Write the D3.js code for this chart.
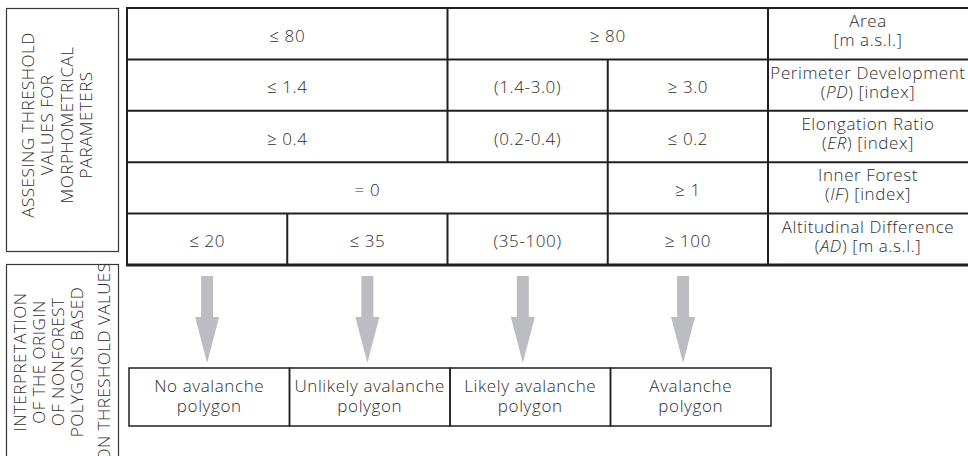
<!DOCTYPE html>
<html>
<head>
<meta charset="utf-8">
<script src="https://cdn.jsdelivr.net/npm/d3@7/dist/d3.min.js"></script>
<style>
  html, body { margin: 0; padding: 0; background: #fff; }
  svg { display: block; }
  text { font-family: "Open Sans", "DejaVu Sans", sans-serif; font-weight: 300; fill: #2f2c2d; letter-spacing: 0.6px; }
</style>
</head>
<body>
<svg id="chart" width="968" height="456"></svg>
<script>
// ---------- DATA ----------
const parameterNames = ["Area", "Perimeter Development", "Elongation Ratio", "Inner Forest", "Altitudinal Difference"];
const parameterAbbr  = [null, "PD", "ER", "IF", "AD"];
const parameterUnits = ["[m a.s.l.]", "[index]", "[index]", "[index]", "[m a.s.l.]"];

// threshold values per parameter row and how many of the 4 outcome columns each spans
const areaValues = ["≤ 80", "≥ 80"];
const areaSpans  = [2, 2];
const pdValues   = ["≤ 1.4", "(1.4-3.0)", "≥ 3.0"];
const pdSpans    = [2, 1, 1];
const erValues   = ["≥ 0.4", "(0.2-0.4)", "≤ 0.2"];
const erSpans    = [2, 1, 1];
const ifValues   = ["= 0", "≥ 1"];
const ifSpans    = [3, 1];
const adValues   = ["≤ 20", "≤ 35", "(35-100)", "≥ 100"];
const adSpans    = [1, 1, 1, 1];

const outcomeLine1 = ["No avalanche", "Unlikely avalanche", "Likely avalanche", "Avalanche"];
const outcomeLine2 = ["polygon", "polygon", "polygon", "polygon"];
// arrow position in outcome-column units
const arrowColumn  = [0.5, 1.5, 2.47, 3.47];

const topTitle    = ["ASSESING THRESHOLD", "VALUES FOR", "MORPHOMETRICAL", "PARAMETERS"];
const bottomTitle = ["INTERPRETATION", "OF THE ORIGIN", "OF NONFOREST", "POLYGONS BASED", "ON THRESHOLD VALUES"];

// ---------- LAYOUT ----------
const svg = d3.select("#chart");
const ink = "#231f20";
const arrowGrey = "#bcbdc0";
const fs = 17;

const rowsValues = [areaValues, pdValues, erValues, ifValues, adValues];
const rowsSpans  = [areaSpans, pdSpans, erSpans, ifSpans, adSpans];

const x = d3.scaleLinear().domain([0, 4]).range([127, 768]);
const labelRight = 968;
const y = d3.scaleBand().domain(d3.range(parameterNames.length)).range([8, 265]);

// side boxes
svg.append("rect").attr("x", 6.5).attr("y", 8.5).attr("width", 112).attr("height", 243)
  .attr("fill", "none").attr("stroke", "#3b3738").attr("stroke-width", 1.2);
svg.append("rect").attr("x", 6.5).attr("y", 264.5).attr("width", 112).attr("height", 220)
  .attr("fill", "none").attr("stroke", "#3b3738").attr("stroke-width", 1.2);

const topBase = [34, 53, 72.5, 92];
topTitle.forEach((t, i) => {
  svg.append("text").attr("transform", `translate(${topBase[i]},125) rotate(-90)`)
    .attr("text-anchor", "middle").attr("font-size", fs).style("letter-spacing", "0.5px").text(t);
});
const botBase = [25.5, 45, 64, 83, 110];
bottomTitle.forEach((t, i) => {
  svg.append("text").attr("transform", `translate(${botBase[i]},362) rotate(-90)`)
    .attr("text-anchor", "middle").attr("font-size", fs).style("letter-spacing", "0.5px").text(t);
});

// table rows
const table = svg.append("g");
rowsValues.forEach((vals, r) => {
  const y0 = y(r), y1 = y0 + y.bandwidth(), cy = y0 + y.bandwidth() / 2;
  let c = 0;
  vals.forEach((v, k) => {
    const c0 = c, c1 = c + rowsSpans[r][k];
    table.append("text").attr("x", (x(c0) + x(c1)) / 2).attr("y", cy + 8)
      .attr("text-anchor", "middle").attr("font-size", fs).text(v);
    if (c1 < 4) {
      table.append("line").attr("x1", x(c1)).attr("x2", x(c1)).attr("y1", y0).attr("y2", y1)
        .attr("stroke", ink).attr("stroke-width", 2);
    }
    c = c1;
  });
  // label
  const lx = (x(4) + labelRight) / 2;
  table.append("text").attr("x", lx).attr("y", cy - 6.5).attr("text-anchor", "middle")
    .attr("font-size", fs).text(parameterNames[r]);
  const t2 = table.append("text").attr("x", lx).attr("y", cy + 12.5).attr("text-anchor", "middle")
    .attr("font-size", fs);
  if (parameterAbbr[r]) {
    t2.append("tspan").text("(");
    t2.append("tspan").attr("font-style", "italic").text(parameterAbbr[r]);
    t2.append("tspan").text(") " + parameterUnits[r]);
  } else {
    t2.text(parameterUnits[r]);
  }
});
// horizontal lines
d3.range(parameterNames.length).forEach(r => {
  table.append("line").attr("x1", x(0) - 1).attr("x2", labelRight).attr("y1", y(r)).attr("y2", y(r))
    .attr("stroke", ink).attr("stroke-width", 2);
});
table.append("line").attr("x1", x(0) - 1).attr("x2", labelRight).attr("y1", y.range()[1]).attr("y2", y.range()[1])
  .attr("stroke", ink).attr("stroke-width", 3);
// outer verticals
[x(0), x(4)].forEach(xx => {
  table.append("line").attr("x1", xx).attr("x2", xx).attr("y1", y.range()[0]).attr("y2", y.range()[1])
    .attr("stroke", ink).attr("stroke-width", 2);
});

// arrows
const shaftTop = 276, headTop = 317, tip = 363, shaftHalf = 6, headHalf = 12;
arrowColumn.forEach(ac => {
  const cx = x(ac);
  svg.append("path")
    .attr("d", `M${cx - shaftHalf},${shaftTop}H${cx + shaftHalf}V${headTop}H${cx + headHalf}L${cx},${tip}L${cx - headHalf},${headTop}H${cx - shaftHalf}Z`)
    .attr("fill", arrowGrey);
});

// outcome boxes
const bx = d3.scaleLinear().domain([0, 4]).range([129, 771]);
const boxTop = 368, boxBot = 426;
outcomeLine1.forEach((t, i) => {
  svg.append("rect").attr("x", bx(i)).attr("y", boxTop).attr("width", bx(i + 1) - bx(i)).attr("height", boxBot - boxTop)
    .attr("fill", "none").attr("stroke", ink).attr("stroke-width", 1.5);
  const cx = (bx(i) + bx(i + 1)) / 2;
  svg.append("text").attr("x", cx).attr("y", 392).attr("text-anchor", "middle").attr("font-size", fs).text(t);
  svg.append("text").attr("x", cx).attr("y", 412).attr("text-anchor", "middle").attr("font-size", fs).text(outcomeLine2[i]);
});
</script>
</body>
</html>
